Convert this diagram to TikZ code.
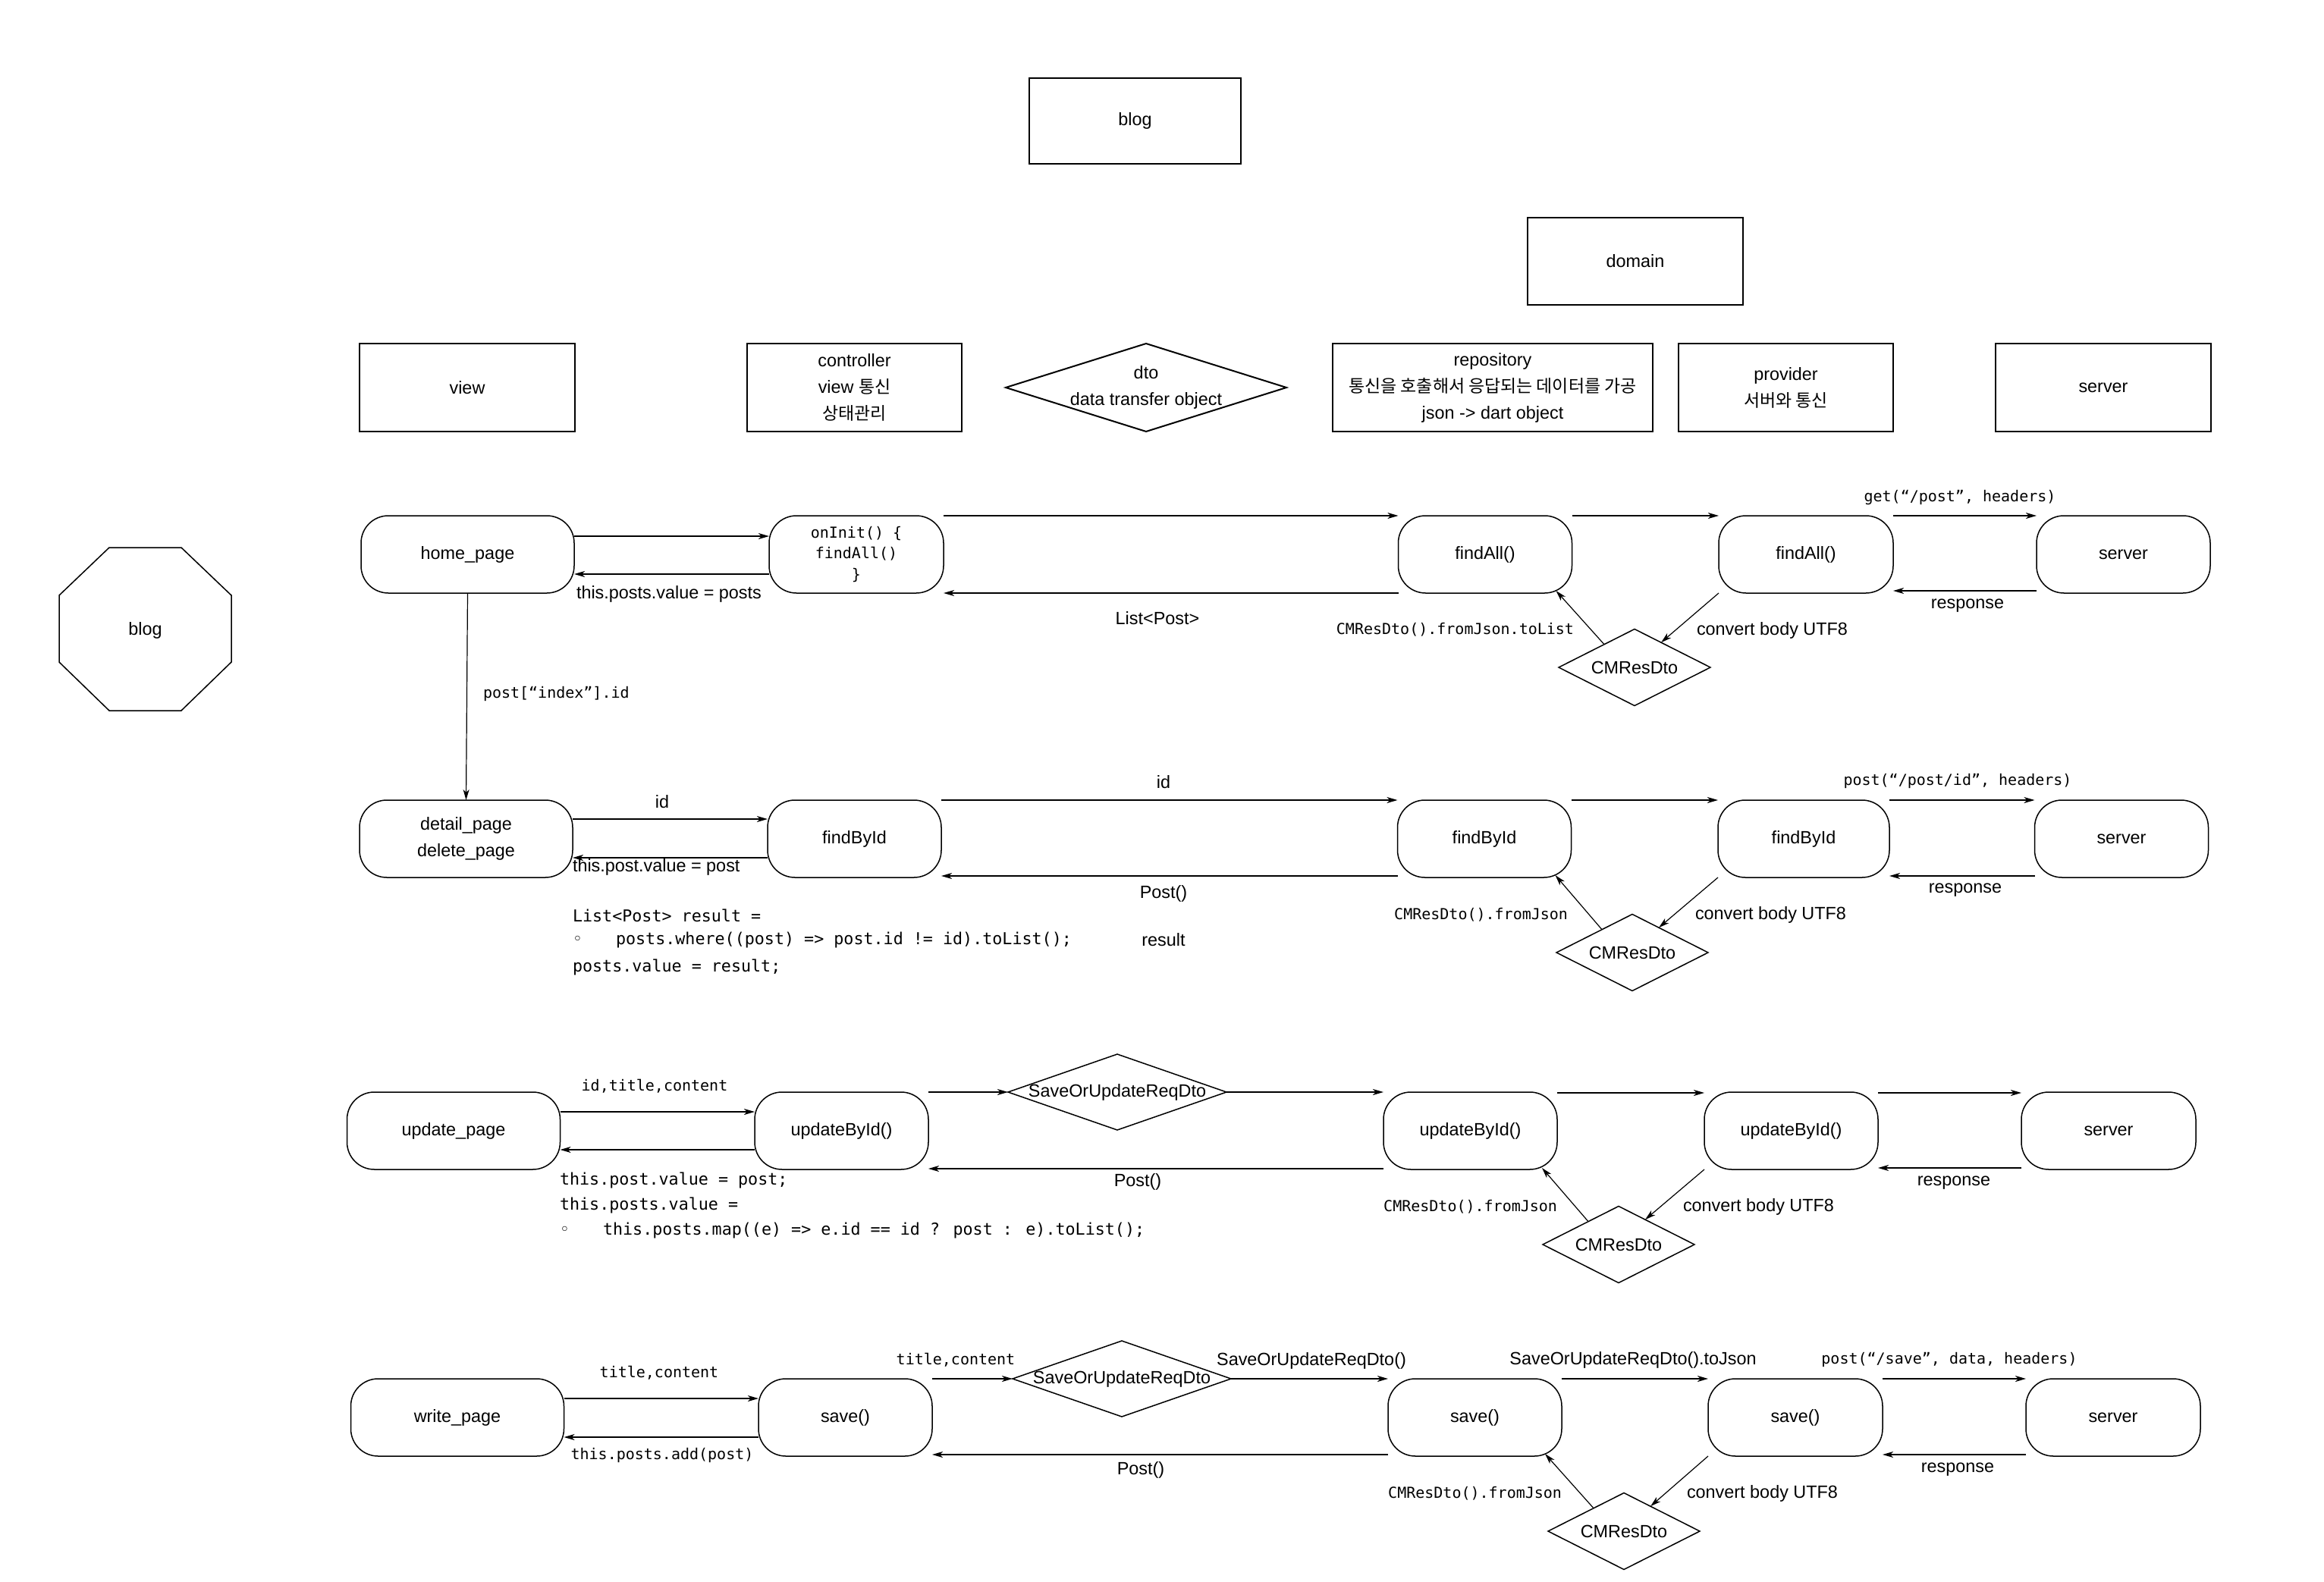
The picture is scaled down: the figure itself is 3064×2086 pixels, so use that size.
\documentclass[tikz,border=0pt]{standalone}
\usepackage{fontspec}
\setmainfont{Liberation Sans}
\newfontfamily\monof{DejaVu Sans Mono}
\newfontfamily\krf[Scale=0.98]{Noto Sans CJK KR}
\newfontfamily\dvs{DejaVu Sans}
\usetikzlibrary{shapes.geometric,arrows.meta,calc}
\newcommand\bul{\makebox[28.5pt][l]{\dvs ◦}}
\tikzset{
  every node/.style={inner sep=0pt, outer sep=0pt},
  sf/.style={font=\fontsize{11.7pt}{17.5pt}\selectfont},
  tt/.style={font=\monof\fontsize{10pt}{13.75pt}\selectfont},
  code/.style={font=\monof\fontsize{10.85pt}{13.75pt}\selectfont, anchor=west},
  hbox/.style={draw, line width=1pt, minimum width=142pt, minimum height=58pt, align=center, sf},
  rbox/.style={draw, line width=0.75pt, rounded corners=18pt, minimum width=114.5pt, minimum height=51pt, align=center, sf},
  wbox/.style={rbox, minimum width=140.5pt},
  dia/.style={draw, diamond, aspect=2, line width=0.75pt, minimum width=100pt, minimum height=50.5pt},
  cmres/.style={dia, label={[sf]center:CMResDto}},
  sq/.style={draw, diamond, aspect=2, line width=0.75pt, minimum width=144pt, minimum height=50pt, label={[sf]center:SaveOrUpdateReqDto}},
  arr/.style={-{Stealth[length=7pt,width=4pt,inset=2pt]}, line width=0.8pt},
  darr/.style={-{Stealth[length=7pt,width=4pt,inset=2pt]}, line width=0.6pt},
}
\begin{document}
\begin{tikzpicture}[x=0.5pt,y=-0.5pt]
\useasboundingbox (0,0) rectangle (3064,2086);

% ---------- top boxes ----------
\node[hbox, minimum width=139.5pt, minimum height=56.5pt] (blogtop) at (1496.5,159.5) {blog};
\node[hbox, minimum width=142pt, minimum height=57.5pt] (domain) at (2156,344.5) {domain};

% ---------- header row ----------
\node[hbox] (hview) at (616,511) {view};
\node[hbox, minimum width=141.5pt] (hctrl) at (1126.5,511) {controller\\view {\krf 통신}\\{\krf 상태관리}};
\node[draw, diamond, aspect=3, line width=1pt, minimum width=185pt, minimum height=58pt,
      label={[sf,align=center]center:{dto\\data transfer object}}] (hdto) at (1511,511) {};
\node[hbox, minimum width=211pt] (hrepo) at (1968,511) {repository\\{\krf 통신을 호출해서 응답되는 데이터를 가공}\\json -> dart object};
\node[hbox, minimum width=141.5pt] (hprov) at (2354.5,511) {provider\\{\krf 서버와 통신}};
\node[hbox] (hsrv) at (2773,511) {server};

% ---------- octagon ----------
\draw[line width=0.75pt] (144,722) -- (239,722) -- (305,785) -- (305,873) -- (239,937) -- (144,937) -- (78,873) -- (78,785) -- cycle;
\node[sf] (octa) at (191.5,831) {blog};

% ---------- row 1 ----------
\node[wbox] (home) at (616.5,731) {home\_page};
\node[rbox, minimum width=115pt, tt] (oninit) at (1129,731) {onInit() \{\\findAll()\\\}};
\node[rbox] (fa1) at (1958,731) {findAll()};
\node[rbox, minimum width=115pt] (fa2) at (2381,731) {findAll()};
\node[rbox] (s1) at (2799.5,731) {server};
\node[cmres] (d1) at (2155,880) {};

\draw[arr] (home.east |- 0,707) -- (oninit.west |- 0,707);
\draw[arr] (oninit.west |- 0,757) -- (home.east |- 0,757);
\node[sf, anchor=west] (l1a) at (760,783) {this.posts.value = posts};
\draw[arr] (oninit.east |- 0,680) -- (fa1.west |- 0,680);
\draw[arr] (fa1.west |- 0,782) -- (oninit.east |- 0,782);
\node[sf] (l1b) at (1526,815) {List<Post>};
\draw[arr] (fa1.east |- 0,680) -- (fa2.west |- 0,680);
\draw[arr] (fa2.east |- 0,680) -- (s1.west |- 0,680);
\node[tt] (l1c) at (2584,656) {get(“/post”, headers)};
\draw[arr] (s1.west |- 0,779) -- (fa2.east |- 0,779);
\node[sf] (l1d) at (2594,799) {response};
\draw[darr] (fa2.south west) -- ($(d1.north)!0.35!(d1.east)$);
\draw[darr] ($(d1.north)!0.4!(d1.west)$) -- ($(fa1.south east)+(-21,-3)$);
\node[tt, anchor=east] (l1e) at (2075,830) {CMResDto().fromJson.toList};
\node[sf, anchor=west] (l1f) at (2237,831) {convert body UTF8};

% ---------- row 2 ----------
\node[wbox] (detail) at (614.5,1106) {detail\_page\\delete\_page};
\node[rbox] (fb0) at (1126.5,1106) {findById};
\node[rbox] (fb1) at (1957,1106) {findById};
\node[rbox, minimum width=113pt] (fb2) at (2378,1106) {findById};
\node[rbox] (s2) at (2797,1106) {server};
\node[cmres] (d2) at (2152,1256) {};

\draw[darr] (home.south) -- (detail.north);
\node[tt, anchor=west] (l2z) at (637,915) {post[“index”].id};
\draw[arr] (detail.east |- 0,1080) -- (fb0.west |- 0,1080);
\node[sf] (l2a) at (873,1057) {id};
\draw[arr] (fb0.west |- 0,1131) -- (detail.east |- 0,1131);
\node[sf, anchor=west] (l2b) at (755,1143) {this.post.value = post};
\draw[arr] (fb0.east |- 0,1055) -- (fb1.west |- 0,1055);
\node[sf] (l2c) at (1534,1031) {id};
\draw[arr] (fb1.west |- 0,1155) -- (fb0.east |- 0,1155);
\node[sf] (l2d) at (1534,1178) {Post()};
\node[sf] (l2e) at (1534,1239) {result};
\draw[arr] (fb1.east |- 0,1055) -- (fb2.west |- 0,1055);
\draw[arr] (fb2.east |- 0,1055) -- (s2.west |- 0,1055);
\node[tt] (l2f) at (2581,1030) {post(“/post/id”, headers)};
\draw[arr] (s2.west |- 0,1155) -- (fb2.east |- 0,1155);
\node[sf] (l2g) at (2591,1174) {response};
\draw[darr] (fb2.south west) -- ($(d2.north)!0.35!(d2.east)$);
\draw[darr] ($(d2.north)!0.4!(d2.west)$) -- ($(fb1.south east)+(-21,-3)$);
\node[tt, anchor=east] (l2h) at (2067,1206) {CMResDto().fromJson};
\node[sf, anchor=west] (l2i) at (2235,1206) {convert body UTF8};
\node[code] (c2a) at (755,1207) {List<Post> result =};
\node[code] (c2b) at (755,1240) {\bul posts.where((post) => post.id != id).toList();};
\node[code] (c2c) at (755,1275) {posts.value = result;};

% ---------- row 3 ----------
\node[wbox] (update) at (598,1491) {update\_page};
\node[rbox] (ub0) at (1109.5,1491) {updateById()};
\node[sq] (sq3) at (1473,1440) {};
\node[rbox] (ub1) at (1938.5,1491) {updateById()};
\node[rbox] (ub2) at (2361.5,1491) {updateById()};
\node[rbox, minimum width=115pt] (s3) at (2780,1491) {server};
\node[cmres] (d3) at (2134,1641) {};

\draw[arr] (update.east |- 0,1466) -- (ub0.west |- 0,1466);
\node[tt] (l3a) at (863,1432) {id,title,content};
\draw[arr] (ub0.west |- 0,1516) -- (update.east |- 0,1516);
\node[code] (c3a) at (738,1556) {this.post.value = post;};
\node[code] (c3b) at (738,1589) {this.posts.value =};
\node[code] (c3c) at (738,1623) {\bul this.posts.map((e) => e.id == id ? post : e).toList();};
\draw[arr] (ub0.east |- sq3.west) -- (sq3.west);
\draw[arr] (sq3.east) -- (ub1.west |- sq3.east);
\draw[arr] (ub1.west |- 0,1541) -- (ub0.east |- 0,1541);
\node[sf] (l3b) at (1500,1558) {Post()};
\draw[arr] (ub1.east |- 0,1441) -- (ub2.west |- 0,1441);
\draw[arr] (ub2.east |- 0,1441) -- (s3.west |- 0,1441);
\draw[arr] (s3.west |- 0,1540) -- (ub2.east |- 0,1540);
\node[sf] (l3c) at (2576,1560) {response};
\draw[darr] (ub2.south west) -- ($(d3.north)!0.35!(d3.east)$);
\draw[darr] ($(d3.north)!0.4!(d3.west)$) -- ($(ub1.south east)+(-20,-2)$);
\node[tt, anchor=east] (l3d) at (2053,1591) {CMResDto().fromJson};
\node[sf, anchor=west] (l3e) at (2219,1591) {convert body UTF8};

% ---------- row 4 ----------
\node[wbox] (write) at (603,1869) {write\_page};
\node[rbox] (sv0) at (1114.5,1869) {save()};
\node[sq] (sq4) at (1479,1818) {};
\node[rbox] (sv1) at (1944.5,1869) {save()};
\node[rbox, minimum width=115pt] (sv2) at (2367,1869) {save()};
\node[rbox, minimum width=115pt] (s4) at (2786,1869) {server};
\node[cmres] (d4) at (2141,2019) {};

\draw[arr] (write.east |- 0,1844) -- (sv0.west |- 0,1844);
\node[tt] (l4a) at (869,1810) {title,content};
\draw[arr] (sv0.west |- 0,1895) -- (write.east |- 0,1895);
\node[tt] (l4b) at (873,1919) {this.posts.add(post)};
\draw[arr] (sv0.east |- sq4.west) -- (sq4.west);
\node[tt] (l4c) at (1260,1793) {title,content};
\draw[arr] (sq4.east) -- (sv1.west |- sq4.east);
\node[sf] (l4d) at (1729,1794) {SaveOrUpdateReqDto()};
\draw[arr] (sv1.west |- 0,1918) -- (sv0.east |- 0,1918);
\node[sf] (l4e) at (1504,1938) {Post()};
\draw[arr] (sv1.east |- 0,1818) -- (sv2.west |- 0,1818);
\node[sf] (l4f) at (2153,1793) {SaveOrUpdateReqDto().toJson};
\draw[arr] (sv2.east |- 0,1818) -- (s4.west |- 0,1818);
\node[tt] (l4g) at (2570,1793) {post(“/save”, data, headers)};
\draw[arr] (s4.west |- 0,1918) -- (sv2.east |- 0,1918);
\node[sf] (l4h) at (2581,1938) {response};
\draw[darr] (sv2.south west) -- ($(d4.north)!0.35!(d4.east)$);
\draw[darr] ($(d4.north)!0.4!(d4.west)$) -- ($(sv1.south east)+(-22,-3)$);
\node[tt, anchor=east] (l4i) at (2059,1969) {CMResDto().fromJson};
\node[sf, anchor=west] (l4j) at (2224,1969) {convert body UTF8};
\end{tikzpicture}
\end{document}
